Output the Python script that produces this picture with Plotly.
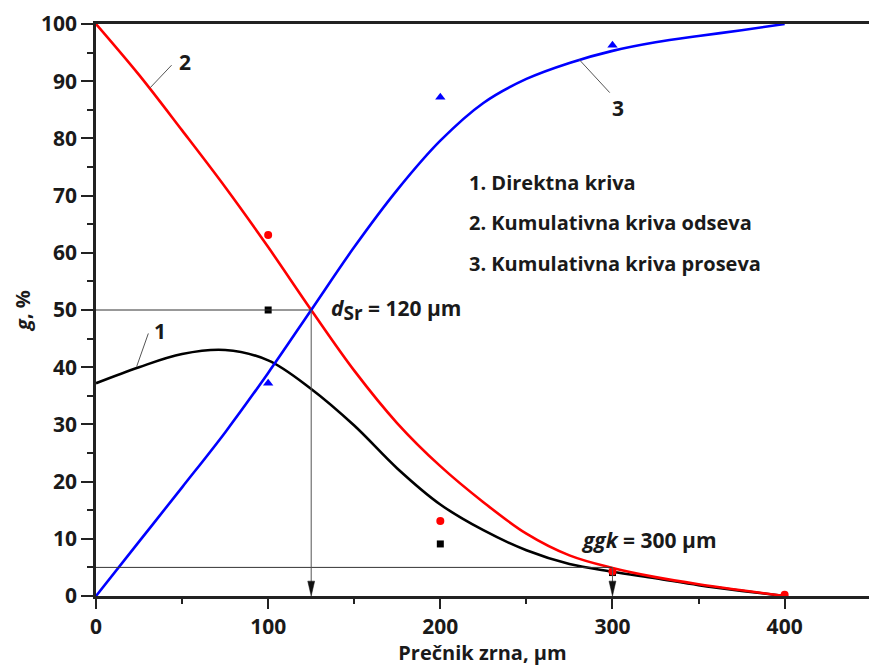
import plotly.graph_objects as go

# ---- data ----
x_curve = [0, 25, 50, 75, 100, 125, 150, 175, 200, 225, 250, 275, 300, 325, 350, 375, 400]
curve1_direct = [37.2, 40.0, 42.3, 43.0, 41.2, 36.2, 29.8, 22.3, 16.0, 11.5, 8.0, 5.6, 4.25, 3.1, 1.9, 0.9, 0.0]
curve2_odsev = [100, 91.1, 81.4, 71.5, 61.0, 50.0, 39.4, 30.2, 22.7, 16.4, 10.9, 7.1, 4.9, 3.3, 2.05, 1.0, 0.0]
curve3_prosev = [0, 9.5, 19.0, 28.6, 39.0, 50.0, 61.0, 71.0, 79.6, 86.2, 90.4, 93.2, 95.3, 96.8, 97.9, 98.9, 100]

x_meas = [100, 200, 300]
meas1 = [50, 9.1, 4.1]
x_meas2 = [100, 200, 300, 400]
meas2 = [63.1, 13.1, 4.3, 0.2]
meas3 = [37.2, 87.2, 96.3]

d_sr_x, d_sr_y = 125, 50
ggk_x, ggk_y = 300, 5

x_ticks = [0, 100, 200, 300, 400]
y_ticks = [0, 10, 20, 30, 40, 50, 60, 70, 80, 90, 100]

FONT = "Open Sans"
TXT = "#1a1a1a"

fig = go.Figure()

fig.add_trace(go.Scatter(x=x_curve, y=curve1_direct, mode="lines",
                         line=dict(color="black", width=2.6, shape="spline", smoothing=1)))
fig.add_trace(go.Scatter(x=x_curve, y=curve2_odsev, mode="lines",
                         line=dict(color="#ff0000", width=2.6, shape="spline", smoothing=1)))
fig.add_trace(go.Scatter(x=x_curve, y=curve3_prosev, mode="lines",
                         line=dict(color="#0000ff", width=2.6, shape="spline", smoothing=1)))

fig.add_trace(go.Scatter(x=x_meas, y=meas1, mode="markers",
                         marker=dict(symbol="square", size=7, color="black")))
fig.add_trace(go.Scatter(x=x_meas2, y=meas2, mode="markers",
                         marker=dict(symbol="circle", size=8, color="#ff0000")))
fig.add_trace(go.Scatter(x=x_meas, y=meas3, mode="markers",
                         marker=dict(symbol="triangle-up", size=9, color="#0000ff")))

guide = dict(color="#333333", width=1)
fig.add_shape(type="line", x0=0, y0=d_sr_y, x1=d_sr_x, y1=d_sr_y, line=guide)
fig.add_shape(type="line", x0=0, y0=ggk_y, x1=ggk_x, y1=ggk_y, line=guide)

# vertical drop lines with narrow arrowheads (head size in axis units)
head_hw, head_h = 2.0, 2.6
for xv, yv in [(d_sr_x, d_sr_y), (ggk_x, ggk_y)]:
    fig.add_shape(type="line", x0=xv, y0=yv, x1=xv, y1=head_h * 0.5,
                  line=dict(color="#555555", width=1))
    fig.add_shape(type="path",
                  path=f"M {xv - head_hw},{head_h} L {xv + head_hw},{head_h} L {xv},0 Z",
                  fillcolor="#111111", line=dict(color="#111111", width=0.5))

# leader lines for curve numbers
leader = dict(color="#555555", width=1)
fig.add_shape(type="line", x0=23.6, y0=40.1, x1=30.4, y1=45.9, line=leader)
fig.add_shape(type="line", x0=31.3, y0=88.8, x1=43.9, y1=92.8, line=leader)
fig.add_shape(type="line", x0=280.6, y0=93.8, x1=298.4, y1=88.0, line=leader)

lab_font = dict(family=FONT, size=21, color=TXT)
fig.add_annotation(x=37.0, y=46.3, text="<b>1</b>", showarrow=False, xanchor="center", yanchor="middle", font=lab_font)
fig.add_annotation(x=51.7, y=93.3, text="<b>2</b>", showarrow=False, xanchor="center", yanchor="middle", font=lab_font)
fig.add_annotation(x=303.2, y=85.3, text="<b>3</b>", showarrow=False, xanchor="center", yanchor="middle", font=lab_font)

fig.add_annotation(x=135.5, y=50, text="<b><i>d</i><sub><span style='font-size:19px'>Sr</span></sub> = 120 µm</b>",
                   showarrow=False, xanchor="left", yanchor="middle", font=lab_font)
fig.add_annotation(x=280.5, y=9.8, text="<b><i>ggk</i> = 300 µm</b>", showarrow=False,
                   xanchor="left", yanchor="middle", font=lab_font)

legend_lines = ["1. Direktna kriva", "2. Kumulativna kriva odseva", "3. Kumulativna kriva proseva"]
legend_y = [72.3, 65.3, 58.1]
for t, yv in zip(legend_lines, legend_y):
    fig.add_annotation(x=215.5, y=yv, text="<b>" + t + "</b>", showarrow=False,
                       xanchor="left", yanchor="middle", font=dict(family=FONT, size=20, color=TXT))

fig.update_layout(
    width=869, height=666,
    margin=dict(l=96, r=0, t=24, b=70),
    paper_bgcolor="white", plot_bgcolor="white",
    showlegend=False,
    font=dict(family=FONT, color=TXT),
)
fig.update_xaxes(
    range=[0, 449], tickvals=x_ticks, ticktext=[f"<b>{v}</b>" for v in x_ticks],
    ticks="outside", ticklen=10, tickwidth=2, tickcolor="#222",
    minor=dict(dtick=50, tick0=0, ticks="outside", ticklen=5, tickwidth=2, tickcolor="#222"),
    showline=True, linewidth=2.5, linecolor="#222", mirror=True,
    showgrid=False, zeroline=False,
    tickfont=dict(family=FONT, size=21, color=TXT),
    title=dict(text="<b>Prečnik zrna, µm</b>", font=dict(family=FONT, size=20, color=TXT), standoff=4),
)
fig.update_yaxes(
    range=[0, 100], tickvals=y_ticks, ticktext=[f"<b>{v}</b>" for v in y_ticks],
    ticks="outside", ticklen=12, tickwidth=2, tickcolor="#222",
    minor=dict(dtick=5, tick0=0, ticks="outside", ticklen=6, tickwidth=2, tickcolor="#222"),
    showline=True, linewidth=2.5, linecolor="#222", mirror=False,
    showgrid=False, zeroline=False,
    tickfont=dict(family=FONT, size=21, color=TXT),
    title=dict(text="<b><i>g</i>, %</b>", font=dict(family=FONT, size=20, color=TXT), standoff=6),
)

fig.write_html("out.html", config={"displayModeBar": False},
               post_script="document.body.style.margin='0';document.body.style.overflow='hidden';")
